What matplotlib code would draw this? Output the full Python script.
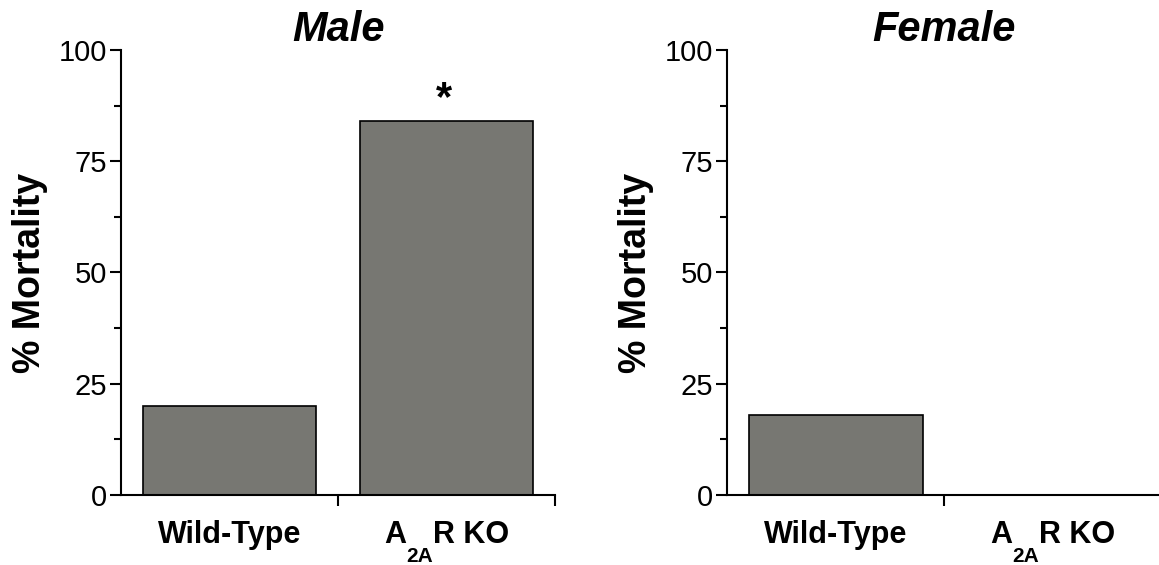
import matplotlib
matplotlib.use("Agg")
import matplotlib.pyplot as plt
from matplotlib.ticker import MultipleLocator
from matplotlib.transforms import offset_copy

plt.rcParams['font.family'] = ['Liberation Sans', 'DejaVu Sans']

# label pieces: (main text, subscript, trailing text)
categories = [("Wild-Type", "", ""), ("A", "2A", "R KO")]
male_values = [20, 84]
female_values = [18, 0]
panel_titles = ["Male", "Female"]
y_ticks = [0, 25, 50, 75, 100]
male_marks = ["", "*"]
female_marks = ["", ""]

bar_color = "#777772"
LABEL_SIZE = 22
SUB_SIZE = 15

fig = plt.figure(figsize=(11.59, 5.65), dpi=100)
ax1 = fig.add_axes([0.1044, 0.1239, 0.3745, 0.7876])
ax2 = fig.add_axes([0.6273, 0.1239, 0.3750, 0.7876])

fig.canvas.draw()
renderer = fig.canvas.get_renderer()


def text_width(s, size):
    t = fig.text(0, 0, s, fontsize=size, fontweight="bold")
    w = t.get_window_extent(renderer).width
    t.remove()
    return w


for ax, vals, title, marks in [(ax1, male_values, panel_titles[0], male_marks),
                               (ax2, female_values, panel_titles[1], female_marks)]:
    x = list(range(len(categories)))
    ax.bar(x, vals, width=0.8, color=bar_color, edgecolor="black", linewidth=1.2, zorder=2)
    ax.set_xlim(-0.5, 1.5)
    ax.set_ylim(0, 100)
    ax.set_yticks(y_ticks)
    ax.yaxis.set_minor_locator(MultipleLocator(12.5))
    ax.set_xticks([0, 1])
    ax.set_xticklabels(["", ""])
    ax.set_xticks([0.5, 1.5], minor=True)
    ax.tick_params(axis='x', which='major', length=0)
    ax.tick_params(axis='x', which='minor', length=8, width=1.5, direction='out')
    ax.tick_params(axis='y', which='major', length=8, width=1.5, labelsize=21, pad=2)
    ax.tick_params(axis='y', which='minor', length=5, width=1.5)
    for s in ['top', 'right']:
        ax.spines[s].set_visible(False)
    for s in ['left', 'bottom']:
        ax.spines[s].set_linewidth(1.5)
    ax.set_ylabel("% Mortality", fontsize=27, fontweight="bold", labelpad=8)
    ax.set_title(title, fontsize=30, fontweight="bold", fontstyle="italic", pad=3)

    # category labels with dropped subscripts
    for xi, (main, sub, tail) in zip(x, categories):
        w_main = text_width(main, LABEL_SIZE)
        w_sub = text_width(sub, SUB_SIZE) if sub else 0
        w_tail = text_width(tail, LABEL_SIZE) if tail else 0
        total = w_main + w_sub + w_tail
        start = -total / 2
        base = ax.get_xaxis_transform()
        ax.text(xi, 0, main, fontsize=LABEL_SIZE, fontweight="bold", ha="left", va="baseline",
                transform=offset_copy(base, fig=fig, x=start, y=-48, units='dots'), clip_on=False)
        if sub:
            ax.text(xi, 0, sub, fontsize=SUB_SIZE, fontweight="bold", ha="left", va="baseline",
                    transform=offset_copy(base, fig=fig, x=start + w_main, y=-67, units='dots'),
                    clip_on=False)
        if tail:
            ax.text(xi, 0, tail, fontsize=LABEL_SIZE, fontweight="bold", ha="left", va="baseline",
                    transform=offset_copy(base, fig=fig, x=start + w_main + w_sub, y=-48, units='dots'),
                    clip_on=False)

    for xi, v, m in zip(x, vals, marks):
        if m:
            ax.text(xi - 0.01, v + 0.5, m, ha="center", va="bottom", fontsize=30, fontweight="bold")

fig.savefig("out.png", dpi=100)
